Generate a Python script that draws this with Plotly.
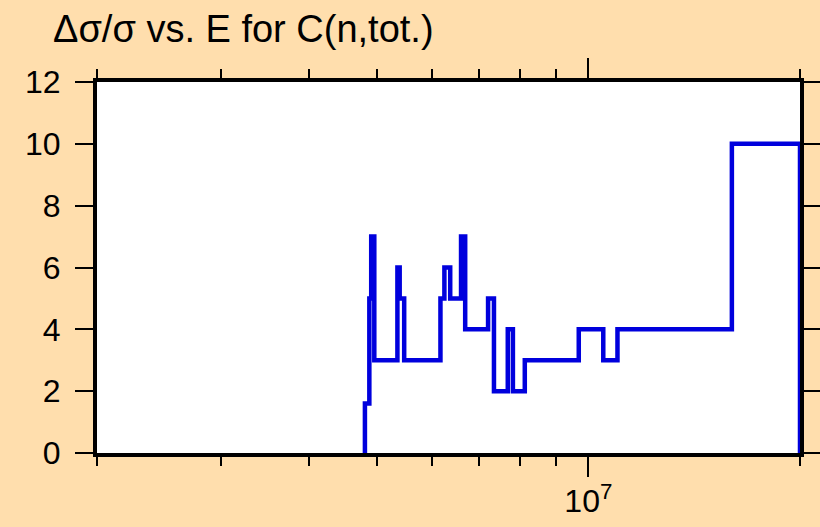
import plotly.graph_objects as go

# Energy breakpoints (eV) where the relative uncertainty changes, plus the end point
edges = [4.81e6, 4.88e6, 4.91e6, 4.96e6, 5.35e6, 5.39e6, 5.47e6, 6.16e6, 6.24e6,
         6.36e6, 6.59e6, 6.68e6, 7.20e6, 7.34e6, 7.68e6, 7.81e6, 8.12e6, 9.69e6,
         1.05e7, 1.10e7, 1.60e7, 2.0e7]
# Δσ/σ (%) on each interval [edges[i], edges[i+1])
values = [1.6, 5, 7, 3, 6, 5, 3, 5, 6, 5, 7, 4, 5, 2, 4, 2, 3, 4, 3, 4, 10]

x_range = [2e6, 2e7]
y_ticks = [0, 2, 4, 6, 8, 10, 12]
x_major = [1e7]
x_major_text = ["10<sup>7</sup>"]
x_minor = [2e6, 3e6, 4e6, 5e6, 6e6, 7e6, 8e6, 9e6, 2e7]

xs = [edges[0]] + edges
ys = [0] + values + [0]

fig = go.Figure()
fig.add_trace(go.Scatter(x=xs, y=ys, mode="lines", line=dict(shape="hv", color="#0000DD", width=4.5),
                         showlegend=False, hoverinfo="skip"))

font = "Liberation Sans, Arial, sans-serif"
fig.update_layout(
    width=820, height=527,
    paper_bgcolor="#FFDEAD", plot_bgcolor="white",
    margin=dict(l=97, r=20, t=82, b=74, autoexpand=False),
    font=dict(family=font, color="black", size=32),
    title=dict(text="Δσ/σ vs. E for C(n,tot.)", x=53/820, xanchor="left", xref="container",
               y=1-29/527, yanchor="middle", yref="container", font=dict(size=38, family=font)),
)
fig.update_xaxes(type="log", range=[6.30103, 7.30103], showgrid=False, zeroline=False,
                 automargin=False,
                 showline=True, linewidth=4, linecolor="black", mirror="ticks",
                 tickmode="array", tickvals=x_major, ticktext=x_major_text,
                 ticks="outside", ticklen=20, tickwidth=2, tickcolor="black",
                 tickfont=dict(size=32), ticklabelstandoff=-3,
                 minor=dict(tickmode="array", tickvals=x_minor, ticks="outside", ticklen=9,
                            tickwidth=2, tickcolor="black", showgrid=False))
fig.update_yaxes(range=[0, 12], showgrid=False, zeroline=False, automargin=False,
                 showline=True, linewidth=4, linecolor="black", mirror="ticks",
                 tickmode="array", tickvals=y_ticks,
                 ticks="outside", ticklen=18, tickwidth=2, tickcolor="black",
                 tickfont=dict(size=32), ticklabelstandoff=8)

fig.write_html("out.html")
